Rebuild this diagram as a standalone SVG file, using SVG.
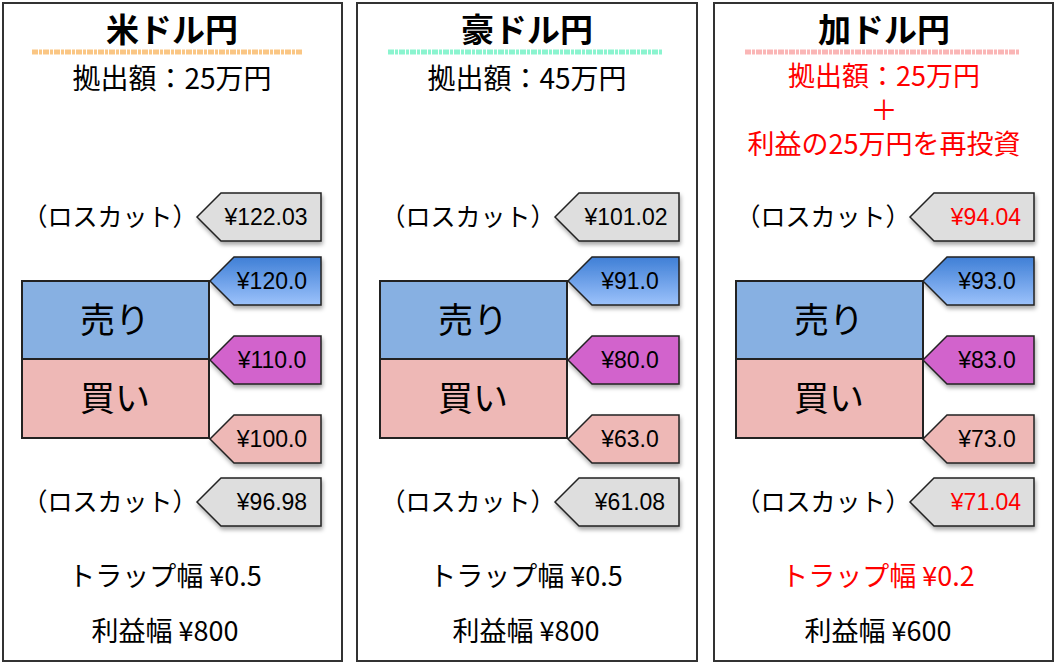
<svg xmlns="http://www.w3.org/2000/svg" width="1056" height="664" viewBox="0 0 1056 664">
<defs>
<linearGradient id="gb" x1="0" y1="0" x2="0" y2="1"><stop offset="0" stop-color="#3f7fd6"/><stop offset="1" stop-color="#9cc2fb"/></linearGradient>
<filter id="sh" x="-10%" y="-10%" width="130%" height="140%"><feDropShadow dx="1" dy="3" stdDeviation="2" flood-opacity="0.35"/></filter>
</defs>
<style>
text{font-family:"Noto Sans CJK JP","Liberation Sans",sans-serif;fill:#000}
.panel{fill:#fff;stroke:#333;stroke-width:2}
.t{font-size:33px;font-weight:bold;text-anchor:middle}
.s{font-size:28px;text-anchor:middle}
.s3{font-size:27px;text-anchor:middle}
.lc{font-size:25px;text-anchor:middle}
.tag{stroke:#222;stroke-width:1.5;filter:url(#sh)}
.tv{font-family:"Liberation Sans",sans-serif;font-size:23px;text-anchor:middle}
.gray{fill:#dedede}.blue{fill:url(#gb)}.purp{fill:#d264cc}.pink{fill:#eeb8b6}
.sell{fill:#87b0e2;stroke:#222;stroke-width:2}.buy{fill:#eeb8b6;stroke:#222;stroke-width:2}
.big{font-size:35px;text-anchor:middle}
.f{font-size:27px;text-anchor:middle}
.red{fill:#f00}
.ul{stroke-width:5;stroke-dasharray:6 1 3 1;opacity:.8}
</style>
<g id="panel1">
<rect class="panel" x="3" y="3" width="339" height="658"/>
<text class="t" x="172" y="42">米ドル円</text>
<line class="ul" x1="32" y1="52" x2="303" y2="52" stroke="#f9b966"/>
<text class="s" x="172" y="89">拠出額：25万円</text>
<text class="lc" x="110" y="226">（ロスカット）</text>
<polygon class="tag gray" points="197,217 221,193 321,193 321,241 221,241"/><text class="tv" x="266" y="225">¥122.03</text>
<polygon class="tag blue" points="210,281 234,257 321,257 321,305 234,305"/><text class="tv" x="272" y="289">¥120.0</text>
<polygon class="tag purp" points="210,360 234,336 321,336 321,384 234,384"/><text class="tv" x="272" y="368">¥110.0</text>
<polygon class="tag pink" points="210,439 234,415 321,415 321,463 234,463"/><text class="tv" x="272" y="447">¥100.0</text>
<text class="lc" x="110" y="511">（ロスカット）</text>
<polygon class="tag gray" points="197,502 221,478 321,478 321,526 221,526"/><text class="tv" x="272" y="510">¥96.98</text>
<rect class="sell" x="22" y="281" width="187" height="78"/><text class="big" x="115" y="333">売り</text>
<rect class="buy" x="22" y="359" width="187" height="79"/><text class="big" x="115" y="411">買い</text>
<text class="f" x="165" y="586">トラップ幅 ¥0.5</text>
<text class="f" x="165" y="641">利益幅 ¥800</text>
</g>
<g id="panel2">
<rect class="panel" x="357" y="3" width="340" height="658"/>
<text class="t" x="527" y="42">豪ドル円</text>
<line class="ul" x1="388" y1="52" x2="662" y2="52" stroke="#6ff2c4"/>
<text class="s" x="527" y="89">拠出額：45万円</text>
<text class="lc" x="468" y="226">（ロスカット）</text>
<polygon class="tag gray" points="555,217 579,193 679,193 679,241 579,241"/><text class="tv" x="626" y="225">¥101.02</text>
<polygon class="tag blue" points="568,281 592,257 679,257 679,305 592,305"/><text class="tv" x="630" y="289">¥91.0</text>
<polygon class="tag purp" points="568,360 592,336 679,336 679,384 592,384"/><text class="tv" x="630" y="368">¥80.0</text>
<polygon class="tag pink" points="568,439 592,415 679,415 679,463 592,463"/><text class="tv" x="630" y="447">¥63.0</text>
<text class="lc" x="468" y="511">（ロスカット）</text>
<polygon class="tag gray" points="555,502 579,478 679,478 679,526 579,526"/><text class="tv" x="630" y="510">¥61.08</text>
<rect class="sell" x="380" y="281" width="187" height="78"/><text class="big" x="473" y="333">売り</text>
<rect class="buy" x="380" y="359" width="187" height="79"/><text class="big" x="473" y="411">買い</text>
<text class="f" x="526" y="586">トラップ幅 ¥0.5</text>
<text class="f" x="526" y="641">利益幅 ¥800</text>
</g>
<g id="panel3">
<rect class="panel" x="714" y="3" width="339" height="658"/>
<text class="t" x="884" y="42">加ドル円</text>
<line class="ul" x1="745" y1="52" x2="1020" y2="52" stroke="#f9a4a4"/>
<text class="s3 red" x="884" y="86">拠出額：25万円</text>
<text class="s3 red" x="884" y="120">＋</text>
<text class="s3 red" x="884" y="154">利益の25万円を再投資</text>
<text class="lc" x="823" y="226">（ロスカット）</text>
<polygon class="tag gray" points="910,217 934,193 1034,193 1034,241 934,241"/><text class="tv red" x="986" y="225">¥94.04</text>
<polygon class="tag blue" points="923,281 947,257 1034,257 1034,305 947,305"/><text class="tv" x="987" y="289">¥93.0</text>
<polygon class="tag purp" points="923,360 947,336 1034,336 1034,384 947,384"/><text class="tv" x="987" y="368">¥83.0</text>
<polygon class="tag pink" points="923,439 947,415 1034,415 1034,463 947,463"/><text class="tv" x="987" y="447">¥73.0</text>
<text class="lc" x="823" y="511">（ロスカット）</text>
<polygon class="tag gray" points="910,502 934,478 1034,478 1034,526 934,526"/><text class="tv red" x="986" y="510">¥71.04</text>
<rect class="sell" x="736" y="281" width="187" height="78"/><text class="big" x="829" y="333">売り</text>
<rect class="buy" x="736" y="359" width="187" height="79"/><text class="big" x="829" y="411">買い</text>
<text class="f red" x="878" y="586">トラップ幅 ¥0.2</text>
<text class="f" x="878" y="641">利益幅 ¥600</text>
</g>
<g id="connectors"/>
</svg>
